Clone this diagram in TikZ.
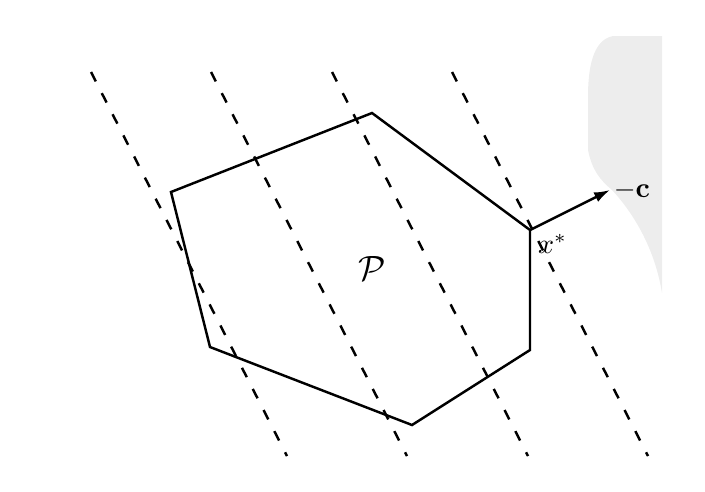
\documentclass[tikz,border=0pt]{standalone}
\usepackage{amsmath}
\usepackage{graphicx}
\usetikzlibrary{arrows.meta}
\tikzset{
  level/.style={dash pattern=on 6pt off 7.5pt, line width=1.4pt},
  edge/.style={line width=1.4pt, line join=miter},
  feasible/.style={fill=black!7, draw=none}
}
\begin{document}
\begin{tikzpicture}[x=0.02cm,y=-0.02cm]
  \useasboundingbox (0,0) rectangle (705,491);
  % shaded region on the right
  \path[feasible] (662,36) -- (613,36) .. controls (592,40) and (588,70) .. (588,97)
     -- (588,150) .. controls (592,170) and (600,180) .. (612,190)
     .. controls (635,215) and (655,250) .. (662,293) -- cycle;
  % level lines
  \foreach \x in {91,211,332,452}
    \draw[level] (\x,72) -- (\x+196,456);
  % the polytope
  \coordinate (v1) at (171,192);
  \coordinate (v2) at (372,113);
  \coordinate (xs) at (530,230);
  \coordinate (v4) at (530,350);
  \coordinate (v5) at (412,425);
  \coordinate (v6) at (210,347);
  \draw[edge] (v1) -- (v2) -- (xs) -- (v4) -- (v5) -- (v6) -- cycle;
  \node (P) at (372,268) {\scalebox{2}{$\mathcal{P}$}};
  \node[anchor=north west, inner sep=1pt] (xl) at (536,232) {\scalebox{1.6}{$x^{*}$}};
  % direction -c
  \coordinate (tip) at (610,190);
  \draw[edge, -{Latex[length=9pt,width=6pt]}] (xs) -- (tip);
  \node[anchor=west, inner sep=2pt] (c) at (tip) {\scalebox{1.6}{$-\mathbf{c}$}};
\end{tikzpicture}
\end{document}
